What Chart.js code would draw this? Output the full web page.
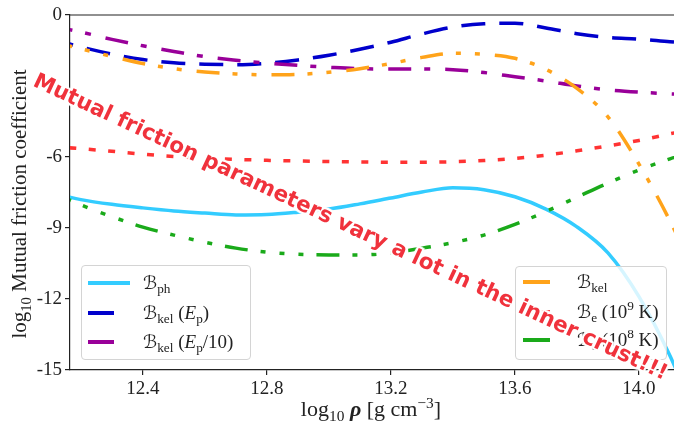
<!DOCTYPE html>
<html>
<head>
<meta charset="utf-8">
<script src="https://cdn.jsdelivr.net/npm/chart.js@4.4.1/dist/chart.umd.min.js"></script>
<style>
    body { margin: 0; background: #fff; }
    #wrap {
        position: relative;
        width: 674px;
        height: 421px;
        overflow: hidden;
        font-family: 'Liberation Serif', serif;
        color: #222;
    }
    canvas { position: absolute; left: 0; top: 0; }
    .legend {
        position: absolute;
        background: rgba(255, 255, 255, 0.8);
        border: 1px solid #d4d4d4;
        border-radius: 4px;
        box-sizing: border-box;
    }
    .swatch { position: absolute; height: 3.5px; margin-top: -2px; }
    .lbl {
        position: absolute;
        white-space: nowrap;
        font-size: 19px;
        line-height: 1;
        transform: translateY(-55%);
    }
    .cal { font-family: 'DejaVu Serif', 'DejaVu Sans', serif; font-style: italic; font-size: 0.95em; }
    sub, sup { font-size: 0.7em; line-height: 0; }
    .axis-title { position: absolute; white-space: nowrap; font-size: 21px; line-height: 1; }
    #ytitle { left: 19px; top: 204px; transform: translate(-50%, -50%) rotate(-90deg); }
    #xtitle { left: 371px; top: 409px; transform: translate(-50%, -50%); font-size: 22px; }
    #shout {
        position: absolute;
        left: 351px;
        top: 226px;
        transform: translate(-50%, -50%) rotate(25deg);
        white-space: nowrap;
        font-family: 'DejaVu Sans', sans-serif;
        font-weight: bold;
        font-size: 21.5px;
        color: #f0323c;
        text-shadow: 2px 0 1px #fff, -2px 0 1px #fff, 0 2px 1px #fff, 0 -2px 1px #fff,
                     2px 2px 1px #fff, -2px -2px 1px #fff, 2px -2px 1px #fff, -2px 2px 1px #fff;
    }
</style>
</head>
<body>
<div id="wrap">
    <canvas id="chart" width="674" height="421"></canvas>

    <div class="legend" style="left:81px;top:265px;width:170px;height:95px">
        <div class="swatch" style="left:6px;top:17px;width:42px;background:#33ccff"></div>
        <div class="lbl" style="left:61px;top:17px"><span class="cal">ℬ</span><sub>ph</sub></div>
        <div class="swatch" style="left:6px;top:47px;width:26px;background:#0000cc"></div>
        <div class="lbl" style="left:61px;top:47px"><span class="cal">ℬ</span><sub>kel</sub> (<i>E</i><sub>p</sub>)</div>
        <div class="swatch" style="left:6px;top:76px;width:26px;background:#990099"></div>
        <div class="lbl" style="left:61px;top:76px"><span class="cal">ℬ</span><sub>kel</sub> (<i>E</i><sub>p</sub>/10)</div>
    </div>

    <div class="legend" style="left:515px;top:266px;width:152px;height:94px">
        <div class="swatch" style="left:7px;top:15px;width:27px;background:#ffa31a"></div>
        <div class="lbl" style="left:61px;top:15px"><span class="cal">ℬ</span><sub>kel</sub></div>
        <div class="swatch" style="left:7px;top:45px;width:27px;background:#ff3333"></div>
        <div class="lbl" style="left:61px;top:45px"><span class="cal">ℬ</span><sub>e</sub> (10<sup>9</sup> K)</div>
        <div class="swatch" style="left:7px;top:73px;width:27px;background:#1aaa1a"></div>
        <div class="lbl" style="left:61px;top:73px"><span class="cal">ℬ</span><sub>e</sub> (10<sup>8</sup> K)</div>
    </div>

    <div class="axis-title" id="ytitle">log<sub>10</sub> Mutual friction coefficient</div>
    <div class="axis-title" id="xtitle">log<sub>10</sub> <b><i>ρ</i></b> [g cm<sup>−3</sup>]</div>
    <div id="shout">Mutual friction parameters vary a lot in the inner crust!!!</div>
</div>

<script>
// log10 density grid, shared by every curve
const rho = [12.1, 12.2, 12.3, 12.4, 12.5, 12.6, 12.7, 12.8, 12.9, 13.0, 13.1,
             13.2, 13.3, 13.4, 13.5, 13.6, 13.7, 13.8, 13.9, 14.0, 14.1, 14.2]

// log10 of each mutual friction coefficient
const bPh     = [-7.5, -7.8, -8.0, -8.15, -8.28, -8.37, -8.45, -8.43, -8.33, -8.2, -7.98,
                 -7.73, -7.48, -7.3, -7.38, -7.68, -8.2, -8.95, -10.05, -11.9, -14.4, -17.5]
const bKelEp   = [-1.0, -1.35, -1.65, -1.88, -2.02, -2.08, -2.1, -2.04, -1.9, -1.7, -1.45,
                 -1.15, -0.8, -0.51, -0.37, -0.35, -0.55, -0.79, -0.95, -1.02, -1.13, -1.22]
const bKelEp10 = [-0.45, -0.72, -1.03, -1.3, -1.54, -1.76, -1.91, -2.03, -2.13, -2.21, -2.27,
                 -2.28, -2.28, -2.31, -2.43, -2.61, -2.79, -3.0, -3.16, -3.26, -3.33, -3.38]
const bKel     = [-1.1, -1.43, -1.75, -2.05, -2.27, -2.41, -2.49, -2.53, -2.51, -2.42, -2.27,
                 -2.05, -1.79, -1.62, -1.66, -1.83, -2.3, -3.1, -4.3, -6.3, -8.7, -11.5]
const bE9      = [-5.55, -5.65, -5.76, -5.88, -5.98, -6.05, -6.1, -6.14, -6.17, -6.19, -6.21,
                 -6.22, -6.22, -6.2, -6.15, -6.06, -5.92, -5.74, -5.53, -5.3, -5.02, -4.75]
const bE8      = [-7.45, -8.02, -8.52, -8.96, -9.3, -9.6, -9.85, -10.02, -10.11, -10.14, -10.14,
                 -10.05, -9.85, -9.62, -9.3, -8.85, -8.3, -7.7, -7.1, -6.55, -6.08, -5.65]

const xTicks = [12.4, 12.8, 13.2, 13.6, 14.0]
const yTicks = [0, -6, -9, -12, -15]

const series = [
    { label: 'B_ph',          values: bPh,      color: '#33ccff', dash: [] },
    { label: 'B_kel (Ep)',    values: bKelEp,   color: '#0000cc', dash: [24, 14] },
    { label: 'B_kel (Ep/10)', values: bKelEp10, color: '#990099', dash: [23, 13, 6, 15] },
    { label: 'B_kel',         values: bKel,     color: '#ffa31a', dash: [23, 13, 5, 14, 5, 15] },
    { label: 'B_e (1e9 K)',   values: bE9,      color: '#ff3333', dash: [7, 12.5] },
    { label: 'B_e (1e8 K)',   values: bE8,      color: '#1aaa1a', dash: [23, 13, 5, 14, 5, 14, 5, 13] }
]

const datasets = series.map((s, idx) => ({
    label: s.label,
    data: rho.map((x, i) => ({ x, y: s.values[i] })),
    borderColor: s.color,
    borderWidth: 3.5,
    borderDash: s.dash,
    borderCapStyle: 'butt',
    pointRadius: 0,
    fill: false,
    cubicInterpolationMode: 'monotone',
    clip: 0,
    order: series.length - idx
}))

const topSpine = {
    id: 'topSpine',
    afterDraw(chart) {
        const { ctx, chartArea } = chart
        ctx.save()
        ctx.strokeStyle = '#222'
        ctx.lineWidth = 1.2
        ctx.beginPath()
        ctx.moveTo(chartArea.left, chartArea.top)
        ctx.lineTo(chartArea.right, chartArea.top)
        ctx.stroke()
        ctx.restore()
    }
}

const tickFont = { family: 'Liberation Serif', size: 19 }

new Chart(document.getElementById('chart'), {
    type: 'line',
    data: { datasets },
    plugins: [topSpine],
    options: {
        responsive: false,
        animation: false,
        devicePixelRatio: 1,
        layout: { padding: { top: 15, right: 0, left: 0, bottom: 0 } },
        plugins: { legend: { display: false }, tooltip: { enabled: false } },
        scales: {
            x: {
                type: 'linear',
                min: 12.165,
                max: 14.113,
                afterBuildTicks: scale => { scale.ticks = xTicks.map(value => ({ value })) },
                afterFit: scale => { scale.height = 51 },
                ticks: {
                    callback: value => Number(value).toFixed(1),
                    font: tickFont,
                    color: '#222',
                    padding: 3,
                    maxRotation: 0,
                    autoSkip: false
                },
                grid: { drawOnChartArea: false, tickLength: 5, color: '#222', lineWidth: 1.2 },
                border: { color: '#222', width: 1.2 }
            },
            y: {
                type: 'linear',
                min: -15,
                max: 0,
                afterBuildTicks: scale => { scale.ticks = yTicks.map(value => ({ value })) },
                afterFit: scale => { scale.width = 70 },
                ticks: {
                    callback: value => String(value),
                    font: tickFont,
                    color: '#222',
                    padding: 3,
                    autoSkip: false
                },
                grid: { drawOnChartArea: false, tickLength: 5, color: '#222', lineWidth: 1.2 },
                border: { color: '#222', width: 1.2 }
            }
        }
    }
})
</script>
</body>
</html>
